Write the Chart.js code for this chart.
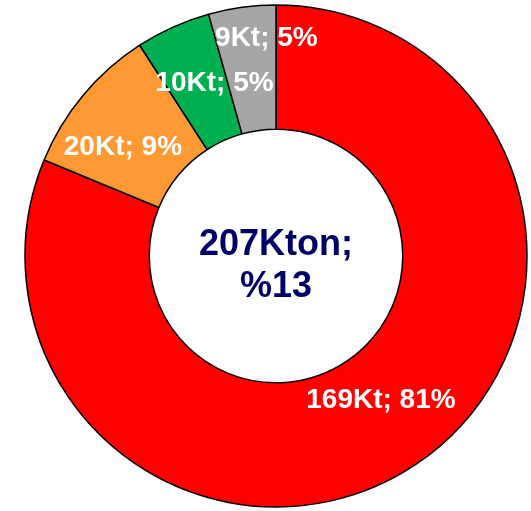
<!DOCTYPE html>
<html>
<head>
<meta charset="utf-8">
<script src="https://cdn.jsdelivr.net/npm/chart.js@4"></script>
<style>
  html, body { margin: 0; padding: 0; background: #ffffff; }
  #wrap { width: 531px; height: 511px; }
</style>
</head>
<body>
<div id="wrap"><canvas id="c" width="531" height="511"></canvas></div>
<script>
// ---- data ----
const categories = ["A", "B", "C", "D"];
const valuesKt = [169, 20, 10, 9];
const percents = [81, 9, 5, 5];
const totalLabel = ["207Kton;", "%13"];

// ---- styles ----
const sliceColors = ["#FF0000", "#FF9933", "#00B050", "#A6A6A6"];
// label nudges relative to each arc's mid point (px)
const labelNudge = [[0, -15], [-8, 10], [16, -3], [16, -33]];

const labelPlugin = {
  id: 'sliceLabels',
  afterDatasetsDraw(chart) {
    const ctx = chart.ctx;
    const meta = chart.getDatasetMeta(0);
    ctx.save();
    ctx.textAlign = 'center';
    ctx.textBaseline = 'alphabetic';
    const fs = 28;
    ctx.font = 'bold ' + fs + 'px "Liberation Sans", Arial, sans-serif';
    ctx.fillStyle = '#FFFFFF';
    meta.data.forEach((arc, i) => {
      const p = arc.tooltipPosition();
      const txt = valuesKt[i] + 'Kt; ' + percents[i] + '%';
      ctx.fillText(txt, p.x + labelNudge[i][0], p.y + labelNudge[i][1] + fs * 0.36);
    });
    // centre text
    const a0 = meta.data[0];
    const cfs = 36;
    ctx.font = 'bold ' + cfs + 'px "Liberation Sans", Arial, sans-serif';
    ctx.fillStyle = '#000066';
    ctx.fillText(totalLabel[0], a0.x, a0.y - 1);
    ctx.fillText(totalLabel[1], a0.x, a0.y + 41);
    ctx.restore();
  }
};

new Chart(document.getElementById('c'), {
  type: 'doughnut',
  data: {
    labels: categories,
    datasets: [{
      data: valuesKt,
      backgroundColor: sliceColors,
      borderColor: '#000000',
      borderWidth: 1.5,
      hoverOffset: 0
    }]
  },
  options: {
    responsive: false,
    animation: false,
    cutout: '50.5%',
    layout: { padding: { left: 21, right: 0, top: 4.25, bottom: 3.25 } },
    plugins: {
      legend: { display: false },
      tooltip: { enabled: false }
    }
  },
  plugins: [labelPlugin]
});
</script>
</body>
</html>
